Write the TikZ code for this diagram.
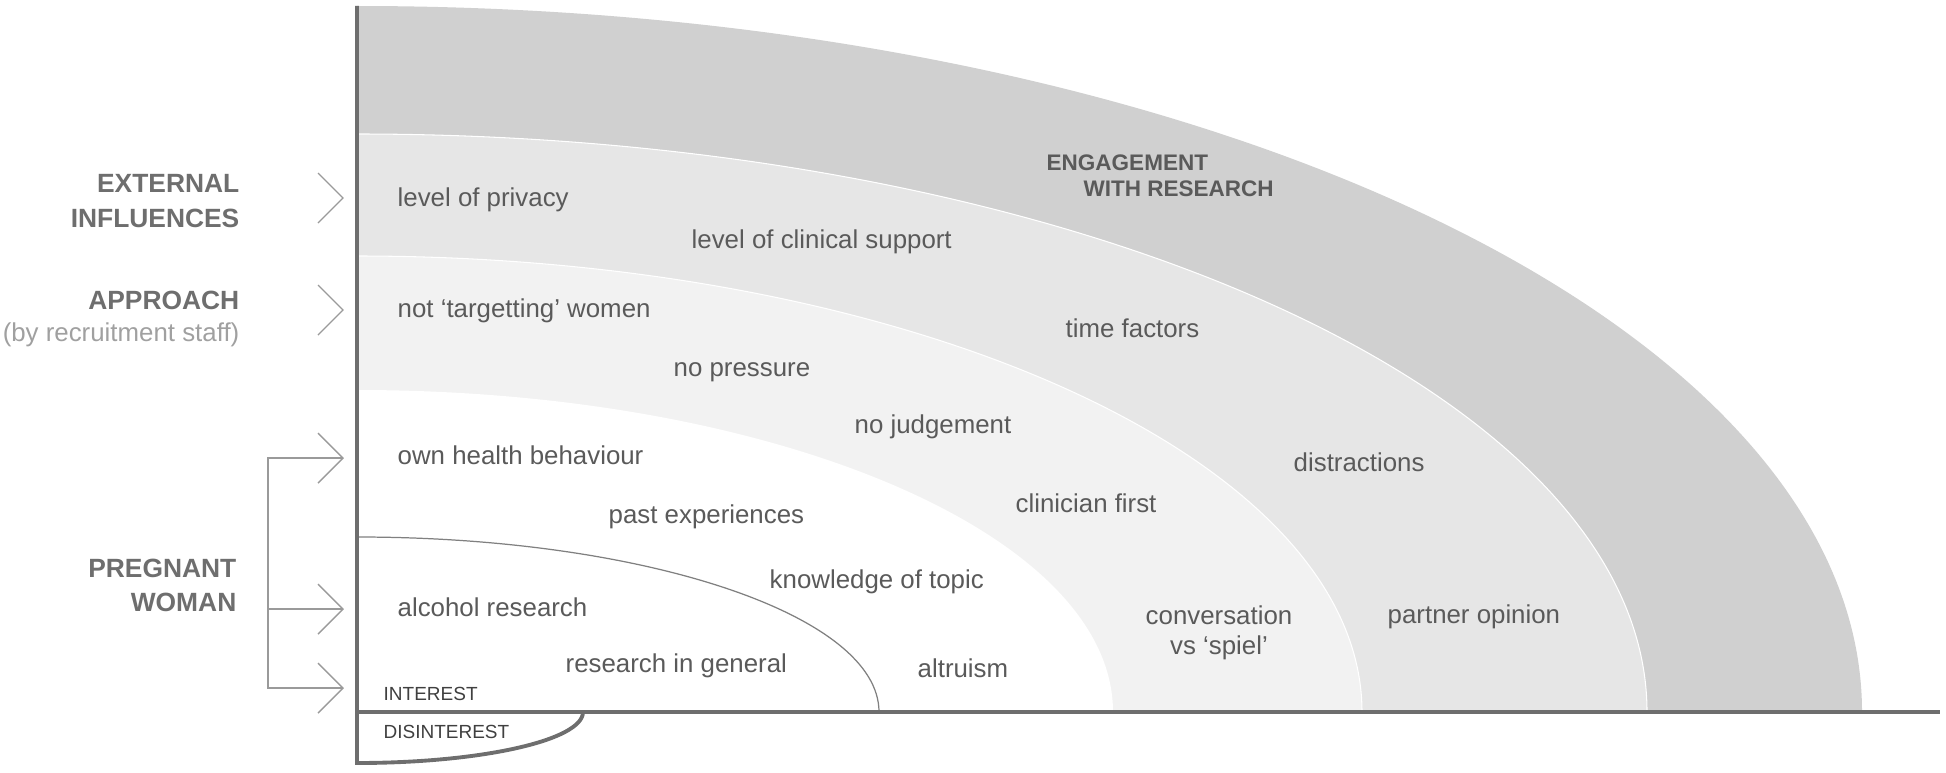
\documentclass[tikz,border=0pt]{standalone}
\usepackage{fontspec}
\setmainfont{Liberation Sans}
\definecolor{bandouter}{HTML}{D0D0D0}
\definecolor{bandmid}{HTML}{E6E6E6}
\definecolor{bandinner}{HTML}{F2F2F2}
\definecolor{axisgray}{HTML}{6E6E6E}
\definecolor{labelgray}{HTML}{5A5A5A}
\definecolor{headgray}{HTML}{6E6E6E}
\definecolor{subgray}{HTML}{A0A0A0}
\definecolor{chevgray}{HTML}{9A9A9A}
\begin{document}
\begin{tikzpicture}[x=0.01cm, y=0.01cm, font=\fontsize{7.35}{9.7}\selectfont,
    lbl/.style={text=labelgray, anchor=west, inner sep=0pt, text height=0.44em, text depth=0pt},
    head/.style={text=headgray, font=\fontsize{7.5}{9.7}\selectfont\bfseries, anchor=east, align=right, inner sep=0pt},
    chev/.style={draw=chevgray, line width=0.4pt},
    axis/.style={draw=axisgray, line width=1.1pt}]
        \useasboundingbox (-357,-60) rectangle (1589,712);
        % bands
        \fill[bandouter] (0,0) -- (1505,0) arc[start angle=0, end angle=90, x radius=1505, y radius=706] -- cycle;
        \filldraw[fill=bandmid, draw=white, line width=0.3pt] (1290,0) arc[start angle=0, end angle=90, x radius=1290, y radius=578] -- (0,0) -- cycle;
        \filldraw[fill=bandinner, draw=white, line width=0.3pt] (1005,0) arc[start angle=0, end angle=90, x radius=1005, y radius=456] -- (0,0) -- cycle;
        \fill[white] (0,0) -- (756,0) arc[start angle=0, end angle=90, x radius=756, y radius=322] -- cycle;
        \draw[gray, line width=0.35pt] (0,175) arc[start angle=90, end angle=0, x radius=522, y radius=175];
        % axes
        \draw[axis] (0,706) -- (0,-51) arc[start angle=270, end angle=360, x radius=226, y radius=51];
        \draw[axis] (0,0) -- (1583,0);
        % left labels
        \node (ext) at (-117,511) [head] {EXTERNAL\\INFLUENCES};
        \node (appr) at (-117,412) [head] {APPROACH};
        \node (staff) at (-117,377) [anchor=east, inner sep=0pt, text=subgray] {(by recruitment staff)};
        \node (preg) at (-120,127) [head] {PREGNANT\\WOMAN};
        % chevrons
        \coordinate (tipE) at (-14,514);
        \coordinate (tipA) at (-14,402);
        \coordinate (tipP) at (-14,254);
        \coordinate (tipQ) at (-14,103);
        \coordinate (tipR) at (-14,24);
        \foreach \t in {tipE,tipA,tipP,tipQ,tipR}
            \draw[chev] (\t) ++(-25,25) -- (\t) -- ++(-25,-25);
        \draw[chev] (tipP) -- ++(-75,0) |- (tipR);
        \draw[chev] (tipQ) -- ++(-75,0);
        % factors
        \node (eng) at (689,549) [lbl, font=\fontsize{6.4}{8}\selectfont\bfseries] {ENGAGEMENT};
        \node (withres) at (726,523) [lbl, font=\fontsize{6.4}{8}\selectfont\bfseries] {WITH RESEARCH};
        \node (privacy) at (40,513) [lbl] {level of privacy};
        \node (clinsup) at (334,471) [lbl] {level of clinical support};
        \node (target) at (40,402) [lbl] {not ‘targetting’ women};
        \node (time) at (708,382) [lbl] {time factors};
        \node (pressure) at (316,343) [lbl] {no pressure};
        \node (judge) at (497,286) [lbl] {no judgement};
        \node (health) at (40,255) [lbl] {own health behaviour};
        \node (distract) at (936,248) [lbl] {distractions};
        \node (past) at (251,196) [lbl] {past experiences};
        \node (clinfirst) at (658,207) [lbl] {clinician first};
        \node (topic) at (412,131) [lbl] {knowledge of topic};
        \node (alcohol) at (40,103) [lbl] {alcohol research};
        \node (conv) at (862,79) [text=labelgray, inner sep=0pt, align=center, font=\fontsize{7.35}{8.4}\selectfont] {conversation\\vs ‘spiel’};
        \node (partner) at (1030,96) [lbl] {partner opinion};
        \node (general) at (208,47) [lbl] {research in general};
        \node (altru) at (560,42) [lbl] {altruism};
        \node (interest) at (26,19) [lbl, text=black!75, font=\fontsize{5.4}{6}\selectfont] {INTEREST};
        \node (disint) at (26,-19) [lbl, text=black!75, font=\fontsize{5.4}{6}\selectfont] {DISINTEREST};
\end{tikzpicture}
\end{document}
